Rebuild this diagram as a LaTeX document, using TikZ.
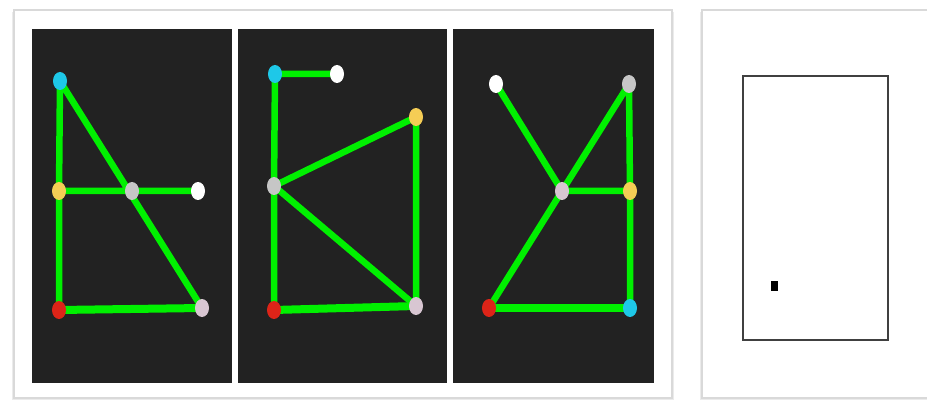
\documentclass[tikz,border=0pt]{standalone}
\usetikzlibrary{shapes.geometric}
\definecolor{bgdark}{HTML}{222222}
\definecolor{edgegreen}{HTML}{00F000}
\definecolor{vcyan}{HTML}{1EC8E8}
\definecolor{vyellow}{HTML}{F5CD55}
\definecolor{vgray}{HTML}{C6C6C6}
\definecolor{vpink}{HTML}{D8C6D2}
\definecolor{vred}{HTML}{DD2418}
\begin{document}
\begin{tikzpicture}[x=1pt,y=-1pt,
  card/.style={fill=white,draw=black!15,line width=1.6pt},
  panel/.style={fill=bgdark,draw=none},
  vtx/.style={ellipse,minimum width=14pt,minimum height=18pt,inner sep=0pt,draw=none},
  edg/.style={draw=edgegreen,line width=6.5pt},
  edgb/.style={draw=edgegreen,line width=8pt}]
\useasboundingbox (0,0) rectangle (927,401);
\fill[white] (0,0) rectangle (927,401);
% cards with a soft shadow
\fill[black!8] (12,12) rectangle (674,400);
\fill[black!8] (700,12) rectangle (935,400);
\draw[card] (14,10) rectangle (672,398);
\draw[card] (702,10) rectangle (935,398);
% dark panels
\fill[panel] (32,29) rectangle (232,383);
\fill[panel] (238,29) rectangle (447,383);
\fill[panel] (453,29) rectangle (654,383);
% panel 1 vertices
\node[vtx] (a1) at (60,81) {};
\node[vtx] (a2) at (59,191) {};
\node[vtx] (a3) at (132,191) {};
\node[vtx] (a4) at (198,191) {};
\node[vtx] (a5) at (59,310) {};
\node[vtx] (a6) at (202,308) {};
% panel 2 vertices
\node[vtx] (b1) at (275,74) {};
\node[vtx] (b2) at (337,74) {};
\node[vtx] (b3) at (416,117) {};
\node[vtx] (b4) at (274,186) {};
\node[vtx] (b5) at (274,310) {};
\node[vtx] (b6) at (416,306) {};
% panel 3 vertices
\node[vtx] (c1) at (496,84) {};
\node[vtx] (c2) at (629,84) {};
\node[vtx] (c3) at (562,191) {};
\node[vtx] (c4) at (630,191) {};
\node[vtx] (c5) at (489,308) {};
\node[vtx] (c6) at (630,308) {};
% edges
\path[edg] (a1.center) -- (a2.center) (a2.center) -- (a5.center)
  (a1.center) -- (a6.center) (a2.center) -- (a4.center);
\path[edgb] (a5.center) -- (a6.center);
\path[edg] (b1.center) -- (b2.center) (b1.center) -- (b4.center) (b4.center) -- (b5.center)
  (b4.center) -- (b3.center) (b4.center) -- (b6.center) (b3.center) -- (b6.center);
\path[edgb] (b5.center) -- (b6.center);
\path[edg] (c1.center) -- (c3.center) (c2.center) -- (c3.center) (c2.center) -- (c4.center)
  (c3.center) -- (c4.center) (c3.center) -- (c5.center) (c4.center) -- (c6.center);
\path[edgb] (c5.center) -- (c6.center);
% vertex discs on top of edges
\foreach \n/\c in {a1/vcyan,a2/vyellow,a3/vgray,a4/white,a5/vred,a6/vpink,
  b1/vcyan,b2/white,b3/vyellow,b4/vgray,b5/vred,b6/vpink,
  c1/white,c2/vgray,c3/vpink,c4/vyellow,c5/vred,c6/vcyan}
  \fill[\c] (\n.center) ellipse (7pt and 9pt);
% right card content
\node[draw=black!75,line width=1.2pt,minimum width=145pt,minimum height=264pt,inner sep=0pt] (frame) at (815.5,208) {};
\node[fill=black,minimum width=7pt,minimum height=10pt,inner sep=0pt] (dot) at (774,286) {};
\end{tikzpicture}
\end{document}
